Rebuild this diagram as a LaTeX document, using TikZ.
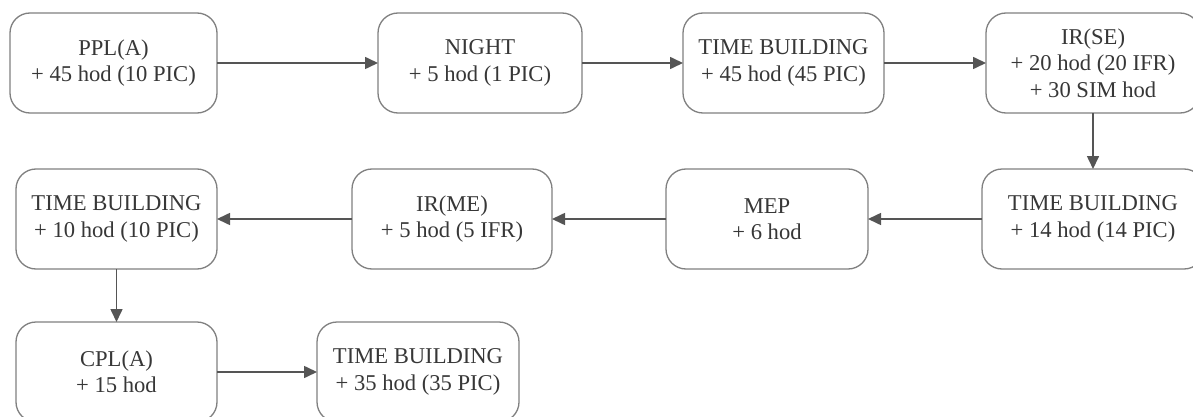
\documentclass[tikz,border=0pt]{standalone}
\usepackage{fontspec}
\setmainfont{Liberation Serif}
\usetikzlibrary{arrows.meta}
\definecolor{boxline}{RGB}{128,128,128}
\definecolor{flowline}{RGB}{85,85,85}
\definecolor{labeltext}{RGB}{55,55,55}
\tikzset{
  stage/.style={draw=boxline, line width=1.3pt, rounded corners=20pt, fill=white,
    inner sep=0pt, outer sep=0pt, minimum height=100pt, align=center,
    text=labeltext, font=\fontsize{22.6}{26.5}\selectfont},
  flow/.style={draw=flowline, line width=1.6pt, -{Triangle[length=13pt,width=12pt]}}
}
\begin{document}
\begin{tikzpicture}[x=1pt,y=-1pt]
\useasboundingbox (0,0) rectangle (1193,417);
\clip (0,0) rectangle (1193,417);
% first row
\node[stage, minimum width=207pt] (ppl)   at (113.5,63) {PPL(A)\\+ 45 hod (10 PIC)};
\node[stage, minimum width=204pt] (night) at (480,63)   {NIGHT\\+ 5 hod (1 PIC)};
\node[stage, minimum width=201pt] (tb1)   at (783.5,63) {TIME BUILDING\\+ 45 hod (45 PIC)};
\node[stage, minimum width=214pt] (irse)  at (1093,63)  {IR(SE)\\+ 20 hod (20 IFR)\\+ 30 SIM hod};
% second row
\node[stage, minimum width=222pt] (tb2)   at (1093,219) {TIME BUILDING\\+ 14 hod (14 PIC)};
\node[stage, minimum width=202pt] (mep)   at (767,219)  {MEP\\+ 6 hod};
\node[stage, minimum width=200pt] (irme)  at (452,219)  {IR(ME)\\+ 5 hod (5 IFR)};
\node[stage, minimum width=201pt] (tb3)   at (116.5,219){TIME BUILDING\\+ 10 hod (10 PIC)};
% third row
\node[stage, minimum width=201pt] (cpl)   at (116.5,372){CPL(A)\\+ 15 hod};
\node[stage, minimum width=202pt] (tb4)   at (418,372)  {TIME BUILDING\\+ 35 hod (35 PIC)};
% connectors
\draw[flow] (ppl) -- (night);
\draw[flow] (night) -- (tb1);
\draw[flow] (tb1) -- (irse);
\draw[flow] (irse) -- (tb2);
\draw[flow] (tb2) -- (mep);
\draw[flow] (mep) -- (irme);
\draw[flow] (irme) -- (tb3);
\draw[flow] (tb3) -- (cpl);
\draw[flow] (cpl) -- (tb4);
\end{tikzpicture}
\end{document}
